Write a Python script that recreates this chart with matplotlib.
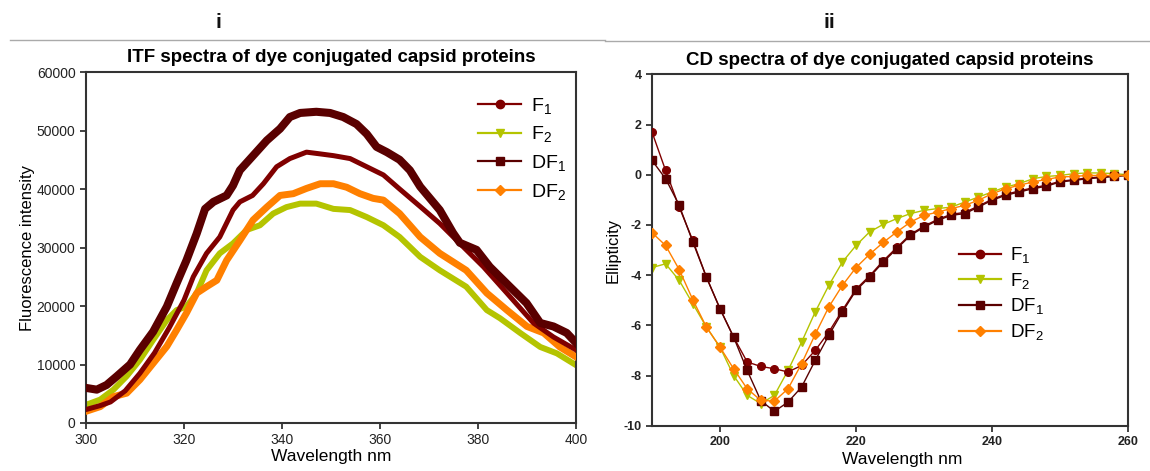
import matplotlib
matplotlib.use("Agg")
import matplotlib.pyplot as plt
from matplotlib.lines import Line2D

plt.rcParams['font.family'] = ['Liberation Sans', 'DejaVu Sans']
plt.rcParams['mathtext.fontset'] = 'custom'
plt.rcParams['mathtext.rm'] = 'Liberation Sans'
plt.rcParams['axes.unicode_minus'] = False

# ---------------- data: panel i (ITF spectra) ----------------
itf_f1_x = [300, 303, 305, 308, 311, 314, 317, 320, 321.9, 324.6, 327.3, 330, 331.4, 334, 336.2,
            338.9, 341.6, 345, 347.8, 350.5, 353.9, 357.3, 360.7, 364, 368.2, 372.2, 377, 381.1,
            385.9, 391.3, 395.4, 400]
itf_f1_y = [2300, 3000, 3600, 5500, 8500, 12000, 16300, 21000, 25000, 29000, 31800, 36400, 37800,
            38900, 40900, 43800, 45200, 46300, 46000, 45700, 45200, 43800, 42400, 40000, 37000,
            34100, 30100, 26700, 22200, 17100, 14700, 12500]

itf_f2_x = [300, 302.9, 305.6, 308.3, 311, 313.7, 316.5, 318.5, 320.5, 322.6, 324.6, 327.3, 330,
            332.8, 335.5, 338.2, 340.9, 343.7, 347, 350.5, 353.9, 357.3, 360.7, 364, 368.2, 372.2,
            377.6, 381.8, 384.5, 388.6, 392.7, 396.1, 400]
itf_f2_y = [3100, 4000, 5700, 8000, 10800, 14200, 17600, 19300, 19900, 22200, 26100, 29000, 30700,
            33000, 33800, 35800, 36900, 37500, 37500, 36600, 36400, 35200, 33800, 31800, 28400,
            26100, 23300, 19300, 17900, 15400, 13000, 11900, 9900]

itf_df1_x = [300, 302.2, 304.2, 306.3, 309, 311, 313.7, 316.5, 318.5, 320.5, 322.6, 324.3, 326,
             328.7, 330, 331.4, 334.1, 336.9, 339.6, 341.6, 343.7, 347, 349.8, 352.5, 355.2, 357.3,
             359.3, 361.4, 364, 366.1, 368.2, 372.2, 374.9, 376.3, 379.7, 382.4, 386.5, 389.9,
             392.7, 395.4, 398.1, 400]
itf_df1_y = [6000, 5700, 6500, 8000, 10000, 12500, 15600, 19900, 23900, 27800, 32400, 36600, 37800,
             38900, 40600, 43200, 45700, 48300, 50300, 52300, 53000, 53200, 53000, 52300, 51100,
             49400, 47200, 46300, 45000, 43200, 40400, 36400, 32500, 30800, 29600, 26700, 23300,
             20500, 17100, 16500, 15400, 13700]

itf_df2_x = [300, 302.9, 305.6, 308.3, 311, 313.7, 316.5, 318.5, 320.5, 322.6, 324.6, 326.7, 328.7,
             331.4, 334.1, 336.9, 339.6, 342.3, 345, 347.8, 350.5, 353.2, 355.9, 358.6, 360.7, 364,
             368.2, 372.2, 377.6, 381.8, 385.9, 390, 393.4, 396.7, 400]
itf_df2_y = [2000, 2800, 4500, 5100, 7400, 10200, 13100, 15900, 18800, 22200, 23300, 24400, 27800,
             31200, 34700, 36900, 38900, 39200, 40100, 40900, 40900, 40300, 39200, 38400, 38100,
             35800, 31800, 29000, 26100, 22200, 19300, 16500, 15400, 13000, 11300]

# ---------------- data: panel ii (CD spectra) ----------------
cd_x = [190, 192, 194, 196, 198, 200, 202, 204, 206, 208, 210, 212, 214, 216, 218, 220, 222, 224,
        226, 228, 230, 232, 234, 236, 238, 240, 242, 244, 246, 248, 250, 252, 254, 256, 258, 260]
cd_f1 = [1.70, 0.17, -1.29, -2.62, -4.08, -5.34, -6.47, -7.46, -7.64, -7.73, -7.86, -7.60, -7.00,
         -6.27, -5.40, -4.56, -4.03, -3.43, -2.90, -2.38, -2.05, -1.78, -1.58, -1.50, -1.25, -0.98,
         -0.78, -0.65, -0.52, -0.42, -0.26, -0.20, -0.13, -0.09, -0.05, -0.02]
cd_f2 = [-3.70, -3.55, -4.21, -5.14, -6.07, -6.87, -8.00, -8.79, -9.12, -8.79, -7.80, -6.67, -5.47,
         -4.41, -3.48, -2.82, -2.28, -1.98, -1.75, -1.55, -1.42, -1.35, -1.29, -1.09, -0.89, -0.69,
         -0.49, -0.36, -0.16, -0.07, -0.03, 0.04, 0.07, 0.07, 0.04, 0.00]
cd_df1 = [0.57, -0.16, -1.22, -2.68, -4.08, -5.34, -6.47, -7.80, -9.00, -9.43, -9.06, -8.46, -7.40,
          -6.40, -5.47, -4.61, -4.08, -3.48, -2.95, -2.42, -2.09, -1.82, -1.62, -1.55, -1.29, -1.02,
          -0.82, -0.69, -0.56, -0.46, -0.29, -0.23, -0.16, -0.12, -0.07, -0.03]
cd_df2 = [-2.31, -2.82, -3.78, -4.98, -6.07, -6.87, -7.73, -8.53, -8.99, -9.02, -8.53, -7.53, -6.36,
          -5.27, -4.41, -3.70, -3.17, -2.70, -2.28, -1.89, -1.62, -1.49, -1.35, -1.22, -1.02, -0.76,
          -0.56, -0.42, -0.29, -0.19, -0.09, -0.07, -0.03, -0.03, -0.03, -0.03]

series_labels = [r'$\mathregular{F_1}$', r'$\mathregular{F_2}$',
                 r'$\mathregular{DF_1}$', r'$\mathregular{DF_2}$']
itf_xticks = [300, 320, 340, 360, 380, 400]
itf_yticks = [0, 10000, 20000, 30000, 40000, 50000, 60000]
cd_xticks = [200, 220, 240, 260]
cd_yticks = [-10, -8, -6, -4, -2, 0, 2, 4]

# ---------------- styles ----------------
C_F1 = '#800000'
C_F2 = '#b4c400'
C_DF1 = '#5a0000'
C_DF2 = '#ff8000'
colors = [C_F1, C_F2, C_DF1, C_DF2]
markers = ['o', 'v', 's', 'D']
AX_COL = '#333333'

fig = plt.figure(figsize=(11.5, 4.71), dpi=100)
W, H = 1150, 471


def fx(px):
    return px / W


def fy(py):
    return 1 - py / H


# header labels and separator lines
fig.text(fx(218), fy(22), 'i', ha='center', va='center', fontsize=15, fontweight='bold', color='#111111')
fig.text(fx(829), fy(22), 'ii', ha='center', va='center', fontsize=15, fontweight='bold', color='#111111')
fig.add_artist(Line2D([fx(10), fx(605)], [fy(40), fy(40)], color='#aaaaaa', lw=1.0))
fig.add_artist(Line2D([fx(605), fx(1150)], [fy(41), fy(41)], color='#aaaaaa', lw=1.0))

# ---------------- panel i ----------------
ax1 = fig.add_axes([fx(86), fy(423), fx(576 - 86), (423 - 72) / H])
ax1.plot(itf_f2_x, itf_f2_y, color=C_F2, lw=4.3, solid_joinstyle='round', zorder=2)
ax1.plot(itf_df2_x, itf_df2_y, color=C_DF2, lw=5.0, solid_joinstyle='round', zorder=3)
ax1.plot(itf_f1_x, itf_f1_y, color=C_F1, lw=3.6, solid_joinstyle='round', zorder=4)
ax1.plot(itf_df1_x, itf_df1_y, color=C_DF1, lw=5.8, solid_joinstyle='round', zorder=5)
ax1.set_xlim(300, 400)
ax1.set_ylim(0, 60000)
ax1.set_xticks(itf_xticks)
ax1.set_yticks(itf_yticks)
ax1.tick_params(direction='out', length=4, width=1.2, labelsize=10, colors='#222222',
                top=False, right=False)
for s in ax1.spines.values():
    s.set_color(AX_COL)
    s.set_linewidth(1.5)
ax1.set_title('ITF spectra of dye conjugated capsid proteins', fontsize=13.5, fontweight='bold',
              pad=7)
ax1.set_xlabel('Wavelength nm', fontsize=12.5, labelpad=1)
ax1.set_ylabel('Fluorescence intensity', fontsize=12, labelpad=1)

handles1 = [Line2D([], [], color=c, marker=m, lw=1.6, markersize=6 if m != 'D' else 5.5)
            for c, m in zip(colors, markers)]
ax1.legend(handles1, series_labels, loc='upper left', bbox_to_anchor=(0.785, 0.955), frameon=False,
           fontsize=14, handlelength=2.2, handletextpad=0.5, labelspacing=0.45, borderaxespad=0)

# ---------------- panel ii ----------------
ax2 = fig.add_axes([fx(652), fy(425.7), fx(1128 - 652), (425.7 - 74.3) / H])
ax2.plot(cd_x, cd_f1, color=C_F1, marker='o', markersize=5.5, lw=1.0, zorder=3)
ax2.plot(cd_x, cd_f2, color=C_F2, marker='v', markersize=6, lw=1.0, zorder=2)
ax2.plot(cd_x, cd_df1, color=C_DF1, marker='s', markersize=6, lw=1.0, zorder=4)
ax2.plot(cd_x, cd_df2, color=C_DF2, marker='D', markersize=5.5, lw=1.0, zorder=5)
ax2.set_xlim(190, 260)
ax2.set_ylim(-10, 4)
ax2.set_xticks(cd_xticks)
ax2.set_yticks(cd_yticks)
ax2.tick_params(direction='out', length=4, width=1.2, labelsize=9, colors='#222222',
                top=False, right=False)
for lab in ax2.get_xticklabels() + ax2.get_yticklabels():
    lab.set_fontweight('bold')
for s in ax2.spines.values():
    s.set_color(AX_COL)
    s.set_linewidth(1.5)
ax2.set_title('CD spectra of dye conjugated capsid proteins', fontsize=13.5, fontweight='bold', pad=7)
ax2.set_xlabel('Wavelength nm', fontsize=12.5, labelpad=2)
ax2.xaxis.set_label_coords(0.525, -0.075)
ax2.set_ylabel('Ellipticity', fontsize=12, labelpad=2)

handles2 = [Line2D([], [], color=c, marker=m, lw=1.6, markersize=6 if m != 'D' else 5.5)
            for c, m in zip(colors, markers)]
ax2.legend(handles2, series_labels, loc='upper left', bbox_to_anchor=(0.63, 0.535), frameon=False,
           fontsize=13.5, handlelength=2.2, handletextpad=0.5, labelspacing=0.3, borderaxespad=0)

fig.savefig('out.png', dpi=100)
